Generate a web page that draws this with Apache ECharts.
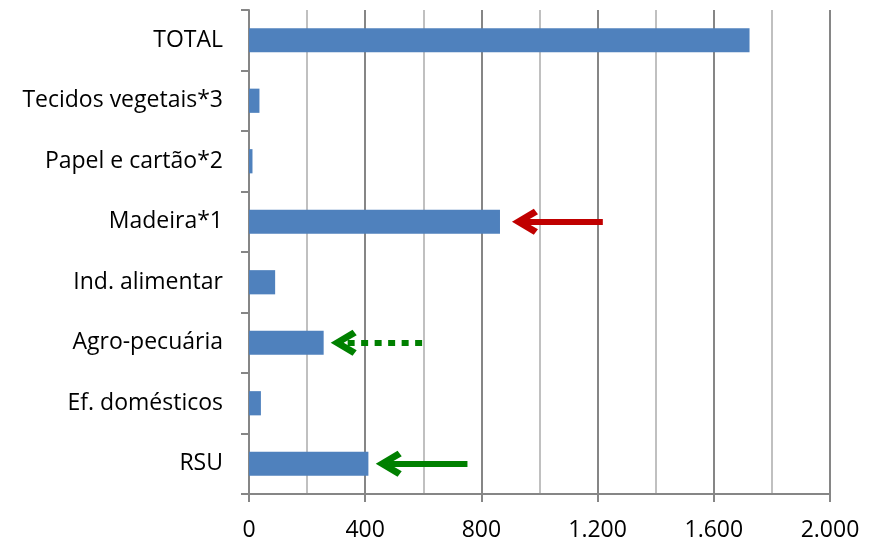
<!DOCTYPE html>
<html>
<head>
<meta charset="utf-8">
<script src="https://cdn.jsdelivr.net/npm/echarts@6/dist/echarts.min.js"></script>
<style>
  html, body { margin: 0; padding: 0; background: #ffffff; }
  #chart { width: 873px; height: 543px; }
</style>
</head>
<body>
<div id="chart"></div>
<script>
// Categories listed bottom to top, as the category axis draws them
const categories = ['RSU', 'Ef. domésticos', 'Agro-pecuária', 'Ind. alimentar',
                    'Madeira*1', 'Papel e cartão*2', 'Tecidos vegetais*3', 'TOTAL'];
const values = [411, 41, 257, 90, 864, 12, 36, 1723];

// Value axis ticks and their labels (Portuguese thousands separator)
const xTicks = [0, 400, 800, 1200, 1600, 2000];
const xTickLabels = ['0', '400', '800', '1.200', '1.600', '2.000'];

// Annotation arrows: [category, tail value, head value]
const arrowRed = ['Madeira*1', 1218, 950];
const arrowGreenDotted = ['Agro-pecuária', 596, 326];
const arrowGreenSolid = ['RSU', 752, 481];

// Open chevron head, tip pointing up in its own frame
const chevron = 'path://M0 0 L12.5 21 L7.2 25 L0 12.5 L-7.2 25 L-12.5 21 Z';

const FONT = '"Open Sans", "Liberation Sans", sans-serif';
const AXIS_GRAY = '#868686';

function arrow(a, color, type) {
  return [
    { coord: [a[1], a[0]], symbol: 'none',
      lineStyle: { color: color, width: 6, type: type, cap: 'butt' } },
    { coord: [a[2], a[0]], symbol: chevron, symbolSize: [26, 26] }
  ];
}

const chart = echarts.init(document.getElementById('chart'), null, { renderer: 'canvas' });
chart.setOption({
  animation: false,
  backgroundColor: '#ffffff',
  grid: { left: 249, right: 43, top: 10, bottom: 49, containLabel: false },
  xAxis: {
    type: 'value',
    min: xTicks[0],
    max: xTicks[xTicks.length - 1],
    interval: xTicks[1] - xTicks[0],
    axisLine: { show: true, lineStyle: { color: AXIS_GRAY, width: 2 } },
    axisTick: { show: true, length: 8, lineStyle: { color: AXIS_GRAY, width: 2 } },
    axisLabel: {
      margin: 25,
      color: '#000000',
      fontFamily: FONT,
      fontSize: 23,
      formatter: function (v) {
        const i = xTicks.indexOf(v);
        return i >= 0 ? xTickLabels[i] : '';
      }
    },
    splitLine: { show: true, lineStyle: { color: AXIS_GRAY, width: 2 } },
    minorTick: { show: false, splitNumber: 2 },
    minorSplitLine: { show: true, lineStyle: { color: '#C0C0C0', width: 2 } }
  },
  yAxis: {
    type: 'category',
    data: categories,
    axisLine: { show: true, lineStyle: { color: AXIS_GRAY, width: 2 } },
    axisTick: { show: true, length: 8, alignWithLabel: false, lineStyle: { color: AXIS_GRAY, width: 2 } },
    axisLabel: {
      margin: 26,
      color: '#000000',
      fontFamily: FONT,
      fontSize: 23
    },
    splitLine: { show: false }
  },
  series: [{
    type: 'bar',
    data: values,
    barCategoryGap: '60%',
    itemStyle: { color: '#4F81BD' },
    silent: true,
    markLine: {
      silent: true,
      symbol: ['none', chevron],
      symbolSize: [26, 26],
      label: { show: false },
      emphasis: { disabled: true },
      data: [
        arrow(arrowRed, '#C00000', 'solid'),
        arrow(arrowGreenDotted, '#008000', [7, 6.5]),
        arrow(arrowGreenSolid, '#008000', 'solid')
      ]
    }
  }]
});
</script>
</body>
</html>
